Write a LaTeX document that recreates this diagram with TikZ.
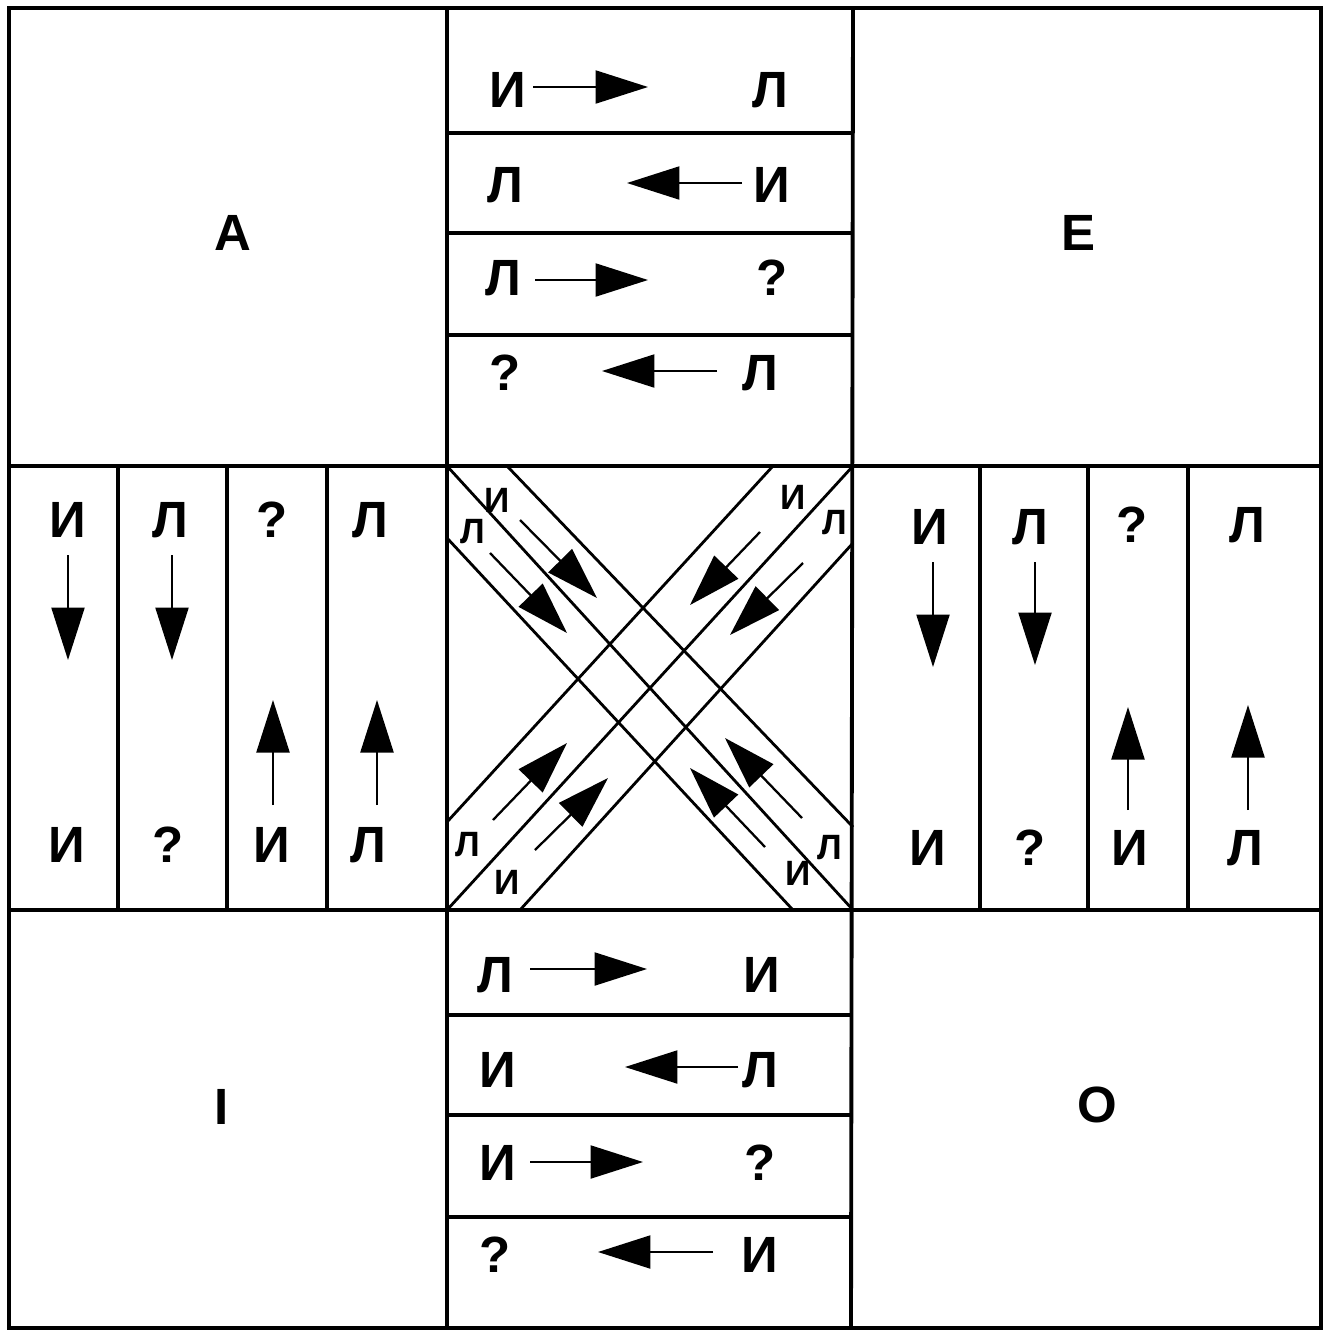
\documentclass[tikz,border=0pt]{standalone}
\usepackage{fontspec}
\setmainfont{Liberation Sans}
\usetikzlibrary{arrows.meta}
\begin{document}
\begin{tikzpicture}[x=0.02cm,y=-0.02cm,
  gridline/.style={line width=2.2pt},
  diagline/.style={line width=1.6pt},
  lbl/.style={font=\fontsize{29}{31}\selectfont\bfseries, inner sep=0pt},
  slbl/.style={font=\fontsize{20}{22}\selectfont\bfseries, inner sep=0pt},
  arr/.style={line width=1.3pt, -{Triangle[length=1.05cm,width=0.66cm]}}]
\useasboundingbox (0,0) rectangle (1326,1333);
% ---------- grid ----------
\draw[gridline] (9,8) rectangle (1321,1328);
\draw[gridline] (447,8) -- (447,1328);
\draw[gridline] (853,8) -- (851,1328);
\draw[gridline] (9,466) -- (1321,466);
\draw[gridline] (9,910) -- (1321,910);
\foreach \yy in {133,233,335} \draw[gridline] (447,\yy) -- (853,\yy);
\foreach \yy in {1015,1115,1217} \draw[gridline] (447,\yy) -- (851,\yy);
\foreach \xx in {118,227,327} \draw[gridline] (\xx,466) -- (\xx,910);
\foreach \xx in {980,1088,1188} \draw[gridline] (\xx,466) -- (\xx,910);
% ---------- corner labels ----------
\node[lbl] (cA) at (233,233) {A};
\node[lbl] (cE) at (1078,233) {E};
\node[lbl] (cI) at (222,1107) {I};
\node[lbl] (cO) at (1097,1105) {O};
% ---------- top rows ----------
\node[lbl] (t1l) at (508,90) {И};  \node[lbl] (t1r) at (770,90) {Л};
\node[lbl] (t2l) at (505,185) {Л}; \node[lbl] (t2r) at (772,185) {И};
\node[lbl] (t3l) at (503,278) {Л}; \node[lbl] (t3r) at (772,278) {?};
\node[lbl] (t4l) at (505,373) {?}; \node[lbl] (t4r) at (760,373) {Л};
\coordinate (t1s) at (533,87);  \coordinate (t1e) at (648,87);
\coordinate (t2s) at (742,183); \coordinate (t2e) at (627,183);
\coordinate (t3s) at (535,280); \coordinate (t3e) at (648,280);
\coordinate (t4s) at (717,371); \coordinate (t4e) at (602,371);
\draw[arr] (t1s) -- (t1e);
\draw[arr] (t2s) -- (t2e);
\draw[arr] (t3s) -- (t3e);
\draw[arr] (t4s) -- (t4e);
% ---------- bottom rows ----------
\node[lbl] (b1l) at (495,975) {Л};  \node[lbl] (b1r) at (762,975) {И};
\node[lbl] (b2l) at (498,1070) {И}; \node[lbl] (b2r) at (760,1070) {Л};
\node[lbl] (b3l) at (498,1163) {И}; \node[lbl] (b3r) at (760,1163) {?};
\node[lbl] (b4l) at (495,1255) {?}; \node[lbl] (b4r) at (760,1255) {И};
\coordinate (b1s) at (530,969);  \coordinate (b1e) at (647,969);
\coordinate (b2s) at (738,1067); \coordinate (b2e) at (625,1067);
\coordinate (b3s) at (530,1162); \coordinate (b3e) at (643,1162);
\coordinate (b4s) at (713,1252); \coordinate (b4e) at (598,1252);
\draw[arr] (b1s) -- (b1e);
\draw[arr] (b2s) -- (b2e);
\draw[arr] (b3s) -- (b3e);
\draw[arr] (b4s) -- (b4e);
% ---------- left columns ----------
\node[lbl] (l1t) at (68,520) {И};  \node[lbl] (l1b) at (67,845) {И};
\node[lbl] (l2t) at (170,520) {Л}; \node[lbl] (l2b) at (168,845) {?};
\node[lbl] (l3t) at (272,520) {?}; \node[lbl] (l3b) at (272,845) {И};
\node[lbl] (l4t) at (370,520) {Л}; \node[lbl] (l4b) at (368,845) {Л};
\coordinate (l1s) at (68,555);  \coordinate (l1e) at (68,660);
\coordinate (l2s) at (172,555); \coordinate (l2e) at (172,660);
\coordinate (l3s) at (273,805); \coordinate (l3e) at (273,700);
\coordinate (l4s) at (377,805); \coordinate (l4e) at (377,700);
\draw[arr] (l1s) -- (l1e);
\draw[arr] (l2s) -- (l2e);
\draw[arr] (l3s) -- (l3e);
\draw[arr] (l4s) -- (l4e);
% ---------- right columns ----------
\node[lbl] (r1t) at (930,527) {И};  \node[lbl] (r1b) at (928,848) {И};
\node[lbl] (r2t) at (1030,527) {Л}; \node[lbl] (r2b) at (1030,848) {?};
\node[lbl] (r3t) at (1132,525) {?}; \node[lbl] (r3b) at (1130,848) {И};
\node[lbl] (r4t) at (1247,525) {Л}; \node[lbl] (r4b) at (1245,848) {Л};
\coordinate (r1s) at (933,562);  \coordinate (r1e) at (933,667);
\coordinate (r2s) at (1035,562); \coordinate (r2e) at (1035,665);
\coordinate (r3s) at (1128,810); \coordinate (r3e) at (1128,707);
\coordinate (r4s) at (1248,810); \coordinate (r4e) at (1248,705);
\draw[arr] (r1s) -- (r1e);
\draw[arr] (r2s) -- (r2e);
\draw[arr] (r3s) -- (r3e);
\draw[arr] (r4s) -- (r4e);
% ---------- centre: crossing bands ----------
\draw[diagline] (507,466) -- (853,827);
\draw[diagline] (447,466) -- (853,910);
\draw[diagline] (447,538) -- (793,910);
\draw[diagline] (773,466) -- (447,822);
\draw[diagline] (853,466) -- (447,910);
\draw[diagline] (853,543) -- (520,910);
\node[slbl] (xTLi) at (497,500) {И}; \node[slbl] (xTLl) at (473,532) {Л};
\node[slbl] (xTRi) at (793,497) {И}; \node[slbl] (xTRl) at (835,523) {Л};
\node[slbl] (xBLl) at (468,845) {Л}; \node[slbl] (xBLi) at (507,882) {И};
\node[slbl] (xBRl) at (830,848) {Л}; \node[slbl] (xBRi) at (798,873) {И};
\coordinate (d1s) at (520,520); \coordinate (d1e) at (597,598);
\coordinate (d2s) at (490,553); \coordinate (d2e) at (567,633);
\coordinate (d3s) at (760,532); \coordinate (d3e) at (690,605);
\coordinate (d4s) at (803,563); \coordinate (d4e) at (730,635);
\coordinate (d5s) at (493,820); \coordinate (d5e) at (567,743);
\coordinate (d6s) at (535,850); \coordinate (d6e) at (608,778);
\coordinate (d7s) at (802,818); \coordinate (d7e) at (725,738);
\coordinate (d8s) at (765,847); \coordinate (d8e) at (690,768);
\foreach \k in {1,...,8} \draw[arr] (d\k s) -- (d\k e);
\end{tikzpicture}
\end{document}
